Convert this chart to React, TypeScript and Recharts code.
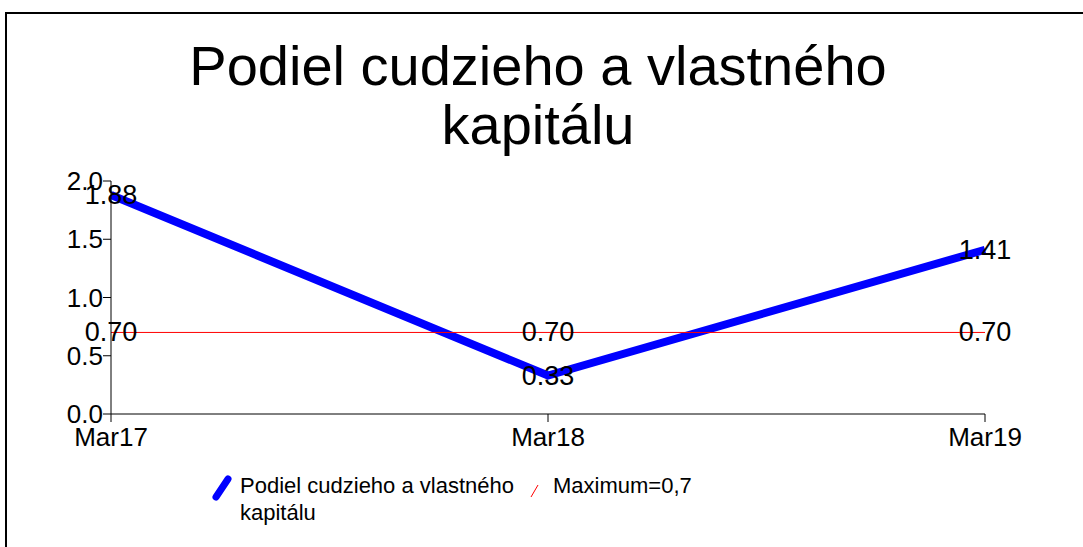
import React from "react";
import { Legend, Line, LineChart, XAxis, YAxis } from "recharts";

const periods = ["Mar17", "Mar18", "Mar19"];
const ratioValues = [1.88, 0.33, 1.41];
const maximumValues = [0.7, 0.7, 0.7];
const yTicks = [0, 0.5, 1, 1.5, 2];
const titleLines = ["Podiel cudzieho a vlastného", "kapitálu"];
const ratioName = "Podiel cudzieho a vlastného kapitálu";
const maximumName = "Maximum=0,7";

const FONT = '"Liberation Sans", Arial, Helvetica, sans-serif';

const data = periods.map((p, i) => ({
  period: p,
  ratio: ratioValues[i],
  maximum: maximumValues[i],
}));

function ValueLabel(props: any) {
  const { x, y, value } = props;
  if (x == null || y == null) return null;
  return (
    <text
      x={x}
      y={y}
      textAnchor="middle"
      dominantBaseline="central"
      fontSize={27}
      fontFamily={FONT}
      fill="#000"
    >
      {Number(value).toFixed(2)}
    </text>
  );
}

function LegendContent() {
  return (
    <div
      style={{
        display: "flex",
        alignItems: "flex-start",
        fontFamily: FONT,
        fontSize: 22,
        lineHeight: "27px",
        color: "#000",
      }}
    >
      <svg width={20} height={26} style={{ marginTop: 3, marginRight: 8, flexShrink: 0 }}>
        <line x1={4} y1={22} x2={16} y2={4} stroke="#0000ff" strokeWidth={7} strokeLinecap="round" />
      </svg>
      <span style={{ width: 280, flexShrink: 0, textAlign: "left" }}>{ratioName}</span>
      <svg width={10} height={16} style={{ marginTop: 10, marginLeft: 10, marginRight: 13, flexShrink: 0 }}>
        <line x1={1} y1={15} x2={8} y2={3} stroke="#ff0000" strokeWidth={1} />
      </svg>
      <span style={{ whiteSpace: "nowrap" }}>{maximumName}</span>
    </div>
  );
}

export default function App() {
  return (
    <div
      style={{
        position: "absolute",
        left: 0,
        top: 0,
        width: 1083,
        height: 547,
        overflow: "hidden",
        background: "#fff",
      }}
    >
      <div
        style={{
          position: "absolute",
          left: 5,
          top: 12,
          width: 1200,
          height: 700,
          border: "2px solid #000",
        }}
      />
      <svg
        width={1083}
        height={160}
        style={{ position: "absolute", left: 0, top: 0 }}
      >
        {titleLines.map((t, i) => (
          <text
            key={t}
            x={538}
            y={85 + i * 59}
            textAnchor="middle"
            fontSize={56}
            fontFamily={FONT}
            fill="#000"
          >
            {t}
          </text>
        ))}
      </svg>
      <div style={{ position: "absolute", left: 0, top: 0 }}>
        <LineChart
          width={1083}
          height={547}
          data={data}
          margin={{ top: 181, right: 98, bottom: 83, left: 0 }}
        >
          <XAxis
            dataKey="period"
            height={50}
            stroke="#000"
            tickSize={8}
            tickMargin={6}
            tick={{ fill: "#000", fontSize: 26, fontFamily: FONT }}
          />
          <YAxis
            width={111}
            domain={[0, 2]}
            ticks={yTicks}
            stroke="#000"
            tickSize={8}
            tickMargin={0}
            tickFormatter={(v: number) => v.toFixed(1)}
            tick={{ fill: "#000", fontSize: 26, fontFamily: FONT }}
          />
          <Legend
            layout="horizontal"
            verticalAlign="middle"
            align="center"
            wrapperStyle={{ left: 212, top: 472, width: 600 }}
            content={<LegendContent />}
          />
          <Line
            dataKey="ratio"
            name={ratioName}
            stroke="#0000ff"
            strokeWidth={8}
            dot={false}
            isAnimationActive={false}
            label={<ValueLabel />}
          />
          <Line
            dataKey="maximum"
            name={maximumName}
            stroke="#ff0000"
            strokeWidth={1}
            dot={false}
            isAnimationActive={false}
            label={<ValueLabel />}
          />
        </LineChart>
      </div>
    </div>
  );
}
